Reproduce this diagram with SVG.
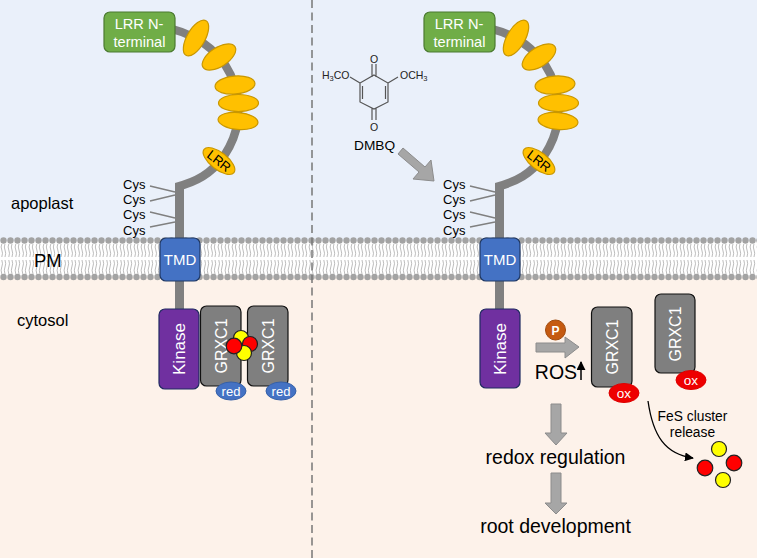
<svg xmlns="http://www.w3.org/2000/svg" width="757" height="558" viewBox="0 0 757 558">
<style>
text{font-family:"Liberation Sans",Arial,sans-serif}
.lab{font-size:16.5px;fill:#000}
.cys{font-size:13px;fill:#000}
.wh{fill:#fff;text-anchor:middle}
.big{font-size:19.5px;fill:#000;text-anchor:middle}
.lrr{fill:#ffc000;stroke:#c99700;stroke-width:1.2}
.back{fill:none;stroke:#808080;stroke-width:8.5}
.cyl{stroke:#808080;stroke-width:1.6;fill:none}
.grx{fill:#7f7f7f;stroke:#111;stroke-width:1.2}
.kin{fill:#7030a0;stroke:#1f2a60;stroke-width:1.2}
.tmd{fill:#4472c4;stroke:#1f3864;stroke-width:1.2}
.red{fill:#ff0000;stroke:#222;stroke-width:1.2}
.yel{fill:#ffff00;stroke:#222;stroke-width:1.2}
.redox{fill:#4472c4;stroke:#3560a8}
.ox{fill:#ee0000;stroke:#dd0000}
.blk{fill:#a6a6a6;stroke:#8c8c8c;stroke-width:1}
.mol{stroke:#555;stroke-width:1.2;fill:none}
</style>
<defs>
<pattern id="bilayer" x="0" y="236" width="7" height="46" patternUnits="userSpaceOnUse">
<path d="M1.800 8 q-1.400 3 0 6 t0 7 M5 8 q-1.400 3 0 6 t0 7 M1.800 24 q1.400 4 0 7 t0 7 M5 24 q1.400 4 0 7 t0 7" fill="none" stroke="#b4b4b4" stroke-width=".9"/>
<circle cx="3.500" cy="4.500" r="3.200" fill="#a3a3a3"/>
<circle cx="3.500" cy="41" r="3.200" fill="#a3a3a3"/>
</pattern>
<marker id="tip" viewBox="0 0 10 10" refX="9" refY="5" markerWidth="9" markerHeight="9" markerUnits="userSpaceOnUse" orient="auto"><path d="M0 0L10 5L0 10Z" fill="#000"/></marker>
<g id="receptorArc">
<path class="back" d="M172 29C200 36 226 56 234 84C241 110 240 132 224 156C211 174 196 182 176 187"/>
<path d="M179.500 183V310" stroke="#808080" stroke-width="9" fill="none"/>
<path class="cyl" d="M150 186L175 192M150 201L175 195M150 212L175 218M150 227L175 222"/>
</g>
</defs>

<rect width="757" height="241" fill="#eaf0fa"/>
<rect y="241" width="757" height="36" fill="#fff"/>
<rect y="277" width="757" height="281" fill="#fdf2ea"/>
<rect y="236" width="757" height="46" fill="url(#bilayer)"/>

<g id="connectors">
<path d="M312 0V558" stroke="#777" stroke-width="1.500" stroke-dasharray="8 4.500" fill="none"/>
<use href="#receptorArc"/>
<use href="#receptorArc" x="320"/>
<path class="blk" d="M398 154L403 148L425 167L431 160L434 181L413 179L419 172Z"/>
<path class="blk" d="M536 343H565V337L579 347L565 358V352H536Z"/>
<path class="blk" d="M551 404H561V433H567L556 445L545 433H551Z"/>
<path class="blk" d="M551 473H561V503H567L556 514L545 503H551Z"/>
<path d="M581 380V362" stroke="#000" stroke-width="1.500" marker-end="url(#tip)" fill="none"/>
<path d="M648 401C653 436 665 454 693 458" stroke="#000" stroke-width="1.300" marker-end="url(#tip)" fill="none"/>
</g>

<g id="compartment-labels">
<text class="lab" x="11" y="209">apoplast</text>
<text class="lab" x="34" y="266.500" style="font-size:18.5px">PM</text>
<text class="lab" x="17" y="326">cytosol</text>
</g>

<g id="receptor-left">
<ellipse class="lrr" cx="196" cy="38" rx="20" ry="9" transform="rotate(-60 196 38)"/>
<ellipse class="lrr" cx="219" cy="57" rx="19" ry="9.500" transform="rotate(-33 219 57)"/>
<ellipse class="lrr" cx="235" cy="85" rx="20" ry="9" transform="rotate(-5 235 85)"/>
<ellipse class="lrr" cx="238.500" cy="103" rx="20" ry="8.500"/>
<ellipse class="lrr" cx="238" cy="121" rx="20" ry="8.500" transform="rotate(5 238 121)"/>
<g transform="rotate(38 219 161)"><ellipse class="lrr" cx="219" cy="161" rx="19" ry="8.500"/><text x="219" y="165.500" font-size="13" text-anchor="middle">LRR</text></g>
<rect x="104" y="12" width="71" height="40" rx="6" fill="#70ad47" stroke="#4b7a30" stroke-width="1.200"/>
<text class="wh" x="139" y="29" font-size="14.600">LRR N-</text>
<text class="wh" x="139.500" y="46.500" font-size="14.600">terminal</text>
</g>
<g id="cys-left" class="cys">
<text x="123" y="189">Cys</text><text x="123" y="204">Cys</text><text x="123" y="219">Cys</text><text x="123" y="235">Cys</text>
</g>
<g id="tmd-left"><rect class="tmd" x="160" y="238" width="40" height="43" rx="6"/><text class="wh" x="180" y="265" font-size="15">TMD</text></g>
<g id="kinase-left"><rect class="kin" x="159" y="309" width="40" height="80" rx="6"/><text class="wh" transform="translate(185 349) rotate(-90)" font-size="17">Kinase</text></g>
<g id="grxc1-left-a"><rect class="grx" x="200.500" y="306" width="40.500" height="80" rx="6"/><text class="wh" transform="translate(227 346) rotate(-90)" font-size="16">GRXC1</text></g>
<g id="grxc1-left-b"><rect class="grx" x="247.500" y="306" width="40.500" height="80" rx="6"/><text class="wh" transform="translate(274 346) rotate(-90)" font-size="16">GRXC1</text></g>
<g id="red-left-a"><ellipse class="redox" cx="231" cy="391" rx="15" ry="9"/><text class="wh" x="231" y="396" font-size="13">red</text></g>
<g id="red-left-b"><ellipse class="redox" cx="281" cy="391" rx="15" ry="9"/><text class="wh" x="281" y="396" font-size="13">red</text></g>
<g id="fes-cluster-bound">
<circle class="yel" cx="241" cy="338" r="7.500"/><circle class="red" cx="250" cy="344" r="7.500"/>
<circle class="yel" cx="244" cy="353" r="7.500"/><circle class="red" cx="234" cy="346" r="7.800"/>
</g>

<g id="dmbq">
<path class="mol" d="M374 75L388 83V102L374 109L360 102V83ZM372 77V64M376 77V64M372 108V120M376 108V120M385.500 86V99M362.500 86V99M388 83L398 77M360 83L350 77"/>
<text x="374" y="63" font-size="10.500" fill="#222" text-anchor="middle">O</text>
<text x="374" y="131" font-size="10.500" fill="#222" text-anchor="middle">O</text>
<text x="322" y="79" font-size="10.500" fill="#222">H<tspan font-size="7.500" dy="2">3</tspan><tspan dy="-2">CO</tspan></text>
<text x="400" y="79" font-size="10.500" fill="#222">OCH<tspan font-size="7.500" dy="2">3</tspan></text>
<text x="354" y="150" font-size="13.700" fill="#000">DMBQ</text>
</g>

<g id="receptor-right" transform="translate(320 0)">
<ellipse class="lrr" cx="196" cy="38" rx="20" ry="9" transform="rotate(-60 196 38)"/>
<ellipse class="lrr" cx="219" cy="57" rx="19" ry="9.500" transform="rotate(-33 219 57)"/>
<ellipse class="lrr" cx="235" cy="85" rx="20" ry="9" transform="rotate(-5 235 85)"/>
<ellipse class="lrr" cx="238.500" cy="103" rx="20" ry="8.500"/>
<ellipse class="lrr" cx="238" cy="121" rx="20" ry="8.500" transform="rotate(5 238 121)"/>
<g transform="rotate(38 219 161)"><ellipse class="lrr" cx="219" cy="161" rx="19" ry="8.500"/><text x="219" y="165.500" font-size="13" text-anchor="middle">LRR</text></g>
<rect x="104" y="12" width="71" height="40" rx="6" fill="#70ad47" stroke="#4b7a30" stroke-width="1.200"/>
<text class="wh" x="139" y="29" font-size="14.600">LRR N-</text>
<text class="wh" x="139.500" y="46.500" font-size="14.600">terminal</text>
</g>
<g id="cys-right" class="cys">
<text x="443" y="189">Cys</text><text x="443" y="204">Cys</text><text x="443" y="219">Cys</text><text x="443" y="235">Cys</text>
</g>
<g id="tmd-right"><rect class="tmd" x="480" y="238" width="40" height="43" rx="6"/><text class="wh" x="500" y="265" font-size="15">TMD</text></g>
<g id="kinase-right"><rect class="kin" x="480" y="309" width="40" height="79" rx="6"/><text class="wh" transform="translate(506 349) rotate(-90)" font-size="17">Kinase</text></g>
<g id="phospho"><circle cx="555.500" cy="330" r="10" fill="#c55a11" stroke="#a04a0d"/><text class="wh" x="555.500" y="334.500" font-size="12" font-weight="bold">P</text></g>
<text class="big" x="556" y="379" id="ros" font-size="20">ROS</text>
<g id="grxc1-right-a"><rect class="grx" x="591.500" y="307" width="40.500" height="80" rx="6"/><text class="wh" transform="translate(618 347) rotate(-90)" font-size="16">GRXC1</text></g>
<g id="grxc1-right-b"><rect class="grx" x="655" y="294" width="40" height="79" rx="6"/><text class="wh" transform="translate(681 334) rotate(-90)" font-size="16">GRXC1</text></g>
<g id="ox-right-a"><ellipse class="ox" cx="624" cy="393" rx="15" ry="9.500"/><text class="wh" x="624" y="397.500" font-size="13.500">ox</text></g>
<g id="ox-right-b"><ellipse class="ox" cx="691" cy="380" rx="15" ry="9.500"/><text class="wh" x="691" y="384.500" font-size="13.500">ox</text></g>
<g id="fes-release">
<text x="692.500" y="421" font-size="13.800" text-anchor="middle">FeS cluster</text>
<text x="692.500" y="437" font-size="13.800" text-anchor="middle">release</text>
<circle class="yel" cx="719" cy="449" r="7.500"/><circle class="red" cx="705" cy="468" r="7.800"/>
<circle class="red" cx="734" cy="463" r="7.800"/><circle class="yel" cx="723" cy="480" r="7.500"/>
</g>
<text class="big" id="redox-regulation" x="555.500" y="464">redox regulation</text>
<text class="big" id="root-development" x="555.500" y="533">root development</text>
</svg>
